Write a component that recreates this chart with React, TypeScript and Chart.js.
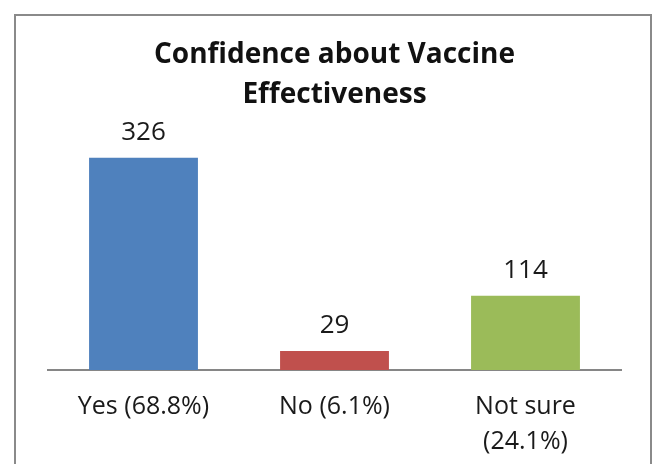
import React, { useEffect, useRef } from "react";
import { Chart, registerables } from "chart.js";

Chart.register(...registerables);

const categories: (string | string[])[] = [["Yes (68.8%)"], ["No (6.1%)"], ["Not sure", "(24.1%)"]];
const counts = [326, 29, 114];
const barColors = ["#4F81BD", "#C0504D", "#9BBB59"];
const titleLines = ["Confidence about Vaccine", "Effectiveness"];

const FONT = "'Open Sans', 'Noto Sans', sans-serif";

const framePlugin = {
  id: "frame",
  beforeDraw(chart: any) {
    const ctx = chart.ctx;
    ctx.save();
    ctx.fillStyle = "#ffffff";
    ctx.fillRect(0, 0, chart.width, chart.height);
    ctx.strokeStyle = "#8a8a8a";
    ctx.lineWidth = 2;
    ctx.strokeRect(15, 15, 636, chart.height + 20);
    ctx.restore();
  },
};

const valueLabels = {
  id: "valueLabels",
  afterDatasetsDraw(chart: any) {
    const ctx = chart.ctx;
    const meta = chart.getDatasetMeta(0);
    ctx.save();
    ctx.font = `26px ${FONT}`;
    ctx.fillStyle = "#1a1a1a";
    ctx.textAlign = "center";
    ctx.textBaseline = "alphabetic";
    meta.data.forEach((bar: any, i: number) => {
      ctx.fillText(String(chart.data.datasets[0].data[i]), bar.x, bar.y - 18);
    });
    ctx.restore();
  },
};

export default function App() {
  const ref = useRef<HTMLCanvasElement>(null);
  useEffect(() => {
    if (!ref.current) return;
    const chart = new Chart(ref.current, {
      type: "bar",
      data: {
        labels: categories,
        datasets: [
          {
            data: counts,
            backgroundColor: barColors,
            borderWidth: 0,
            barPercentage: 0.57,
            categoryPercentage: 1,
          },
        ],
      },
      options: {
        animation: false,
        responsive: true,
        maintainAspectRatio: false,
        layout: { padding: { left: 48, right: 35, top: 0, bottom: 7 } },
        plugins: {
          legend: { display: false },
          tooltip: { enabled: false },
          title: {
            display: true,
            text: titleLines,
            color: "#111111",
            font: { family: FONT, size: 28, weight: "bold", lineHeight: 1.43 },
            padding: { top: 35, bottom: 27 },
          },
        },
        scales: {
          x: {
            grid: { display: false, drawTicks: false },
            border: { display: true, color: "#868686", width: 2 },
            afterFit: (scale: any) => {
              scale.height = 87;
            },
            ticks: {
              color: "#1a1a1a",
              padding: 19,
              maxRotation: 0,
              autoSkip: false,
              font: { family: FONT, size: 25, lineHeight: 1.4 },
            },
          },
          y: {
            display: false,
            min: 0,
            max: 350,
          },
        },
      },
      plugins: [framePlugin, valueLabels],
    });
    return () => chart.destroy();
  }, []);
  return (
    <div style={{ position: "absolute", left: 0, top: 0, width: 656, height: 464 }}>
      <canvas ref={ref} />
    </div>
  );
}
